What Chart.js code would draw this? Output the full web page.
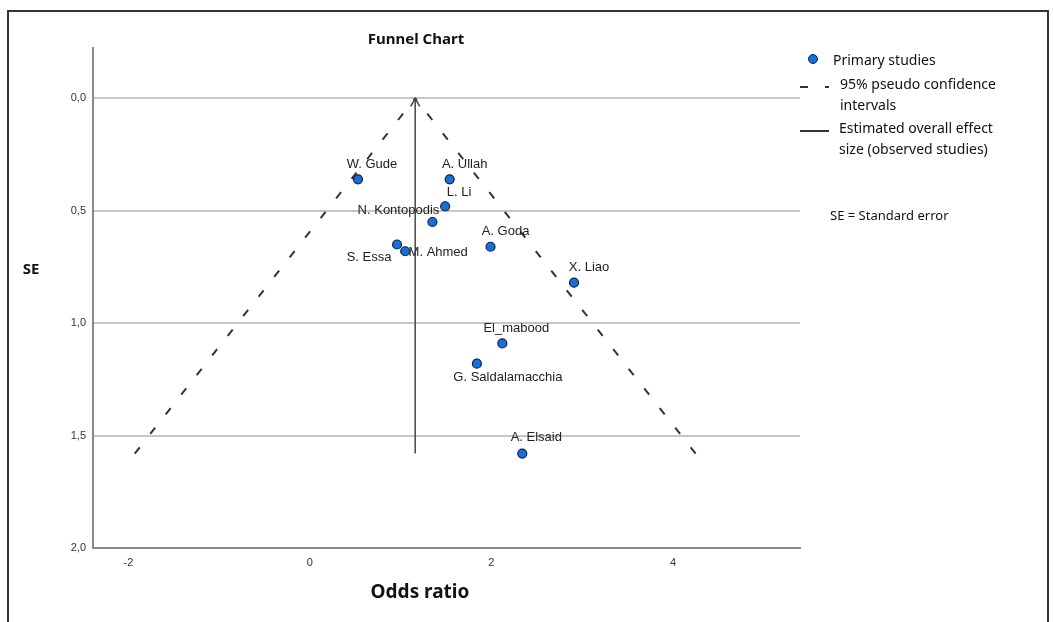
<!DOCTYPE html>
<html>
<head>
<meta charset="utf-8">
<script src="https://cdn.jsdelivr.net/npm/chart.js@4/dist/chart.umd.min.js"></script>
<style>
  html, body { margin: 0; padding: 0; background: #fff; }
  #wrap { position: relative; width: 1053px; height: 622px; overflow: hidden; }
  #frame { position: absolute; left: 7px; top: 10px; width: 1042px; height: 640px; border: 2px solid #333; box-sizing: border-box; }
  canvas { position: absolute; left: 0; top: 0; }
  .txt { position: absolute; font-family: "Noto Sans", sans-serif; color: #111; white-space: nowrap; }
  .c { transform: translate(-50%, -50%); }
  .l { transform: translate(0, -50%); }
  .b { font-weight: bold; }
  .leg { font-size: 14px; }
  .dot { position: absolute; width: 8px; height: 8px; border-radius: 50%; background: #1a6ed8; border: 1px solid #0b2545; transform: translate(-50%, -50%); }
  .seg { position: absolute; height: 2px; background: #333; }
</style>
</head>
<body>
<div id="wrap">
  <div id="frame"></div>
  <canvas id="funnelChart" width="1053" height="622"></canvas>

  <div class="txt c b" style="left:416px; top:38px; font-size:15px;">Funnel Chart</div>
  <div class="txt c b" style="left:31px; top:268px; font-size:15px;">SE</div>
  <div class="txt c b" style="left:420px; top:591px; font-size:19px;">Odds ratio</div>

  <div class="dot" style="left:813px; top:59px;"></div>
  <div class="txt l leg" style="left:833px; top:59px;">Primary studies</div>
  <div class="seg" style="left:800px; top:86px; width:8px;"></div>
  <div class="seg" style="left:825px; top:86px; width:4px;"></div>
  <div class="txt l leg" style="left:840px; top:83px;">95% pseudo confidence</div>
  <div class="txt l leg" style="left:840px; top:104px;">intervals</div>
  <div class="seg" style="left:800px; top:130px; width:29px;"></div>
  <div class="txt l leg" style="left:839px; top:127px;">Estimated overall effect</div>
  <div class="txt l leg" style="left:839px; top:148px;">size (observed studies)</div>
  <div class="txt l leg" style="left:830px; top:215px; font-size:13px;">SE = Standard error</div>
</div>

<script>
// dados
const studyNames = ['W. Gude', 'A. Ullah', 'L. Li', 'N. Kontopodis', 'A. Goda', 'S. Essa',
                    'M. Ahmed', 'X. Liao', 'El_mabood', 'G. Saldalamacchia', 'A. Elsaid'];
const oddsRatio = [0.53, 1.54, 1.49, 1.35, 1.99, 0.96, 1.05, 2.91, 2.12, 1.84, 2.34];
const standardError = [0.36, 0.36, 0.48, 0.55, 0.66, 0.65, 0.68, 0.82, 1.09, 1.18, 1.58];

const overallEffect = 1.16;       // linha vertical
const funnelBaseSE = 1.58;        // fim das linhas do funil
const ciLeftX = [-1.93, 1.16];    // limite inferior (base -> topo)
const ciRightX = [4.25, 1.16];    // limite superior (base -> topo)
const ciSE = [1.58, 0];

const xTicks = [-2, 0, 2, 4];
const yTicks = [0, 0.5, 1.0, 1.5, 2.0];

// deslocamento das etiquetas em pixels (estilo, não dados)
const labelOffsets = [[14, -15], [15, -15], [14, -14], [-34, -12], [15, -15], [-28, 13],
                      [33, 1], [15, -15], [14, -15], [31, 14], [14, -16]];

const points = oddsRatio.map((x, i) => ({ x: x, y: standardError[i] }));

// nomes dos estudos + ponta da seta
const annotations = {
    id: 'annotations',
    afterDatasetsDraw(chart) {
        const ctx = chart.ctx;
        const meta = chart.getDatasetMeta(0);
        ctx.save();
        ctx.font = '13px "Liberation Sans", Arial, sans-serif';
        ctx.fillStyle = '#222';
        ctx.textAlign = 'center';
        ctx.textBaseline = 'middle';
        meta.data.forEach((pt, i) => {
            const off = labelOffsets[i];
            ctx.fillText(studyNames[i], pt.x + off[0], pt.y + off[1]);
        });
        // seta no topo da linha vertical
        const top = chart.getDatasetMeta(3).data[0];
        ctx.strokeStyle = '#444';
        ctx.lineWidth = 1.5;
        ctx.beginPath();
        ctx.moveTo(top.x - 4.5, top.y + 8);
        ctx.lineTo(top.x, top.y);
        ctx.lineTo(top.x + 4.5, top.y + 8);
        ctx.stroke();
        ctx.restore();
    }
};

const ctx = document.getElementById('funnelChart').getContext('2d');
const funnelChart = new Chart(ctx, {
    type: 'scatter',
    data: {
        datasets: [{
            label: 'Primary studies',
            data: points,
            pointRadius: 4.5,
            pointBackgroundColor: '#1a6ed8',
            pointBorderColor: '#0b2545',
            pointBorderWidth: 1.2,
            order: 0
        },
        {
            label: '95% pseudo confidence intervals',
            data: ciLeftX.map((x, i) => ({ x: x, y: ciSE[i] })),
            showLine: true,
            borderColor: '#333',
            borderWidth: 2,
            borderDash: [8, 17],
            pointRadius: 0,
            order: 1
        },
        {
            label: '95% pseudo confidence intervals',
            data: ciRightX.map((x, i) => ({ x: x, y: ciSE[i] })),
            showLine: true,
            borderColor: '#333',
            borderWidth: 2,
            borderDash: [8, 17],
            pointRadius: 0,
            order: 1
        },
        {
            label: 'Estimated overall effect size (observed studies)',
            data: [{ x: overallEffect, y: 0 }, { x: overallEffect, y: funnelBaseSE }],
            showLine: true,
            borderColor: '#444',
            borderWidth: 1.5,
            pointRadius: 0,
            order: 1
        }]
    },
    options: {
        responsive: false,
        animation: false,
        devicePixelRatio: 1,
        layout: { padding: { left: 0, top: 48, right: 253, bottom: 0 } },
        plugins: {
            legend: { display: false },
            tooltip: { enabled: false }
        },
        scales: {
            x: {
                type: 'linear',
                min: -2.39,
                max: 5.4,
                afterBuildTicks: function(scale) {
                    scale.ticks = xTicks.map(v => ({ value: v }));
                },
                afterFit: function(scale) { scale.height = 74; },
                grid: { display: false, drawTicks: false },
                border: { display: true, color: '#8a8a8a', width: 2 },
                ticks: {
                    color: '#333',
                    padding: 8,
                    maxRotation: 0,
                    font: { family: '"Liberation Sans", Arial, sans-serif', size: 11 }
                }
            },
            y: {
                type: 'linear',
                reverse: true,
                min: -0.224,
                max: 2.0,
                afterBuildTicks: function(scale) {
                    scale.ticks = yTicks.map(v => ({ value: v }));
                },
                afterFit: function(scale) { scale.width = 93; },
                grid: { color: '#c6c6c6', lineWidth: 2, drawTicks: false },
                border: { display: true, color: '#8a8a8a', width: 2 },
                ticks: {
                    color: '#333',
                    padding: 7,
                    font: { family: '"Liberation Sans", Arial, sans-serif', size: 11 },
                    callback: function(value) { return value.toFixed(1).replace('.', ','); }
                }
            }
        }
    },
    plugins: [annotations]
});
</script>
</body>
</html>
